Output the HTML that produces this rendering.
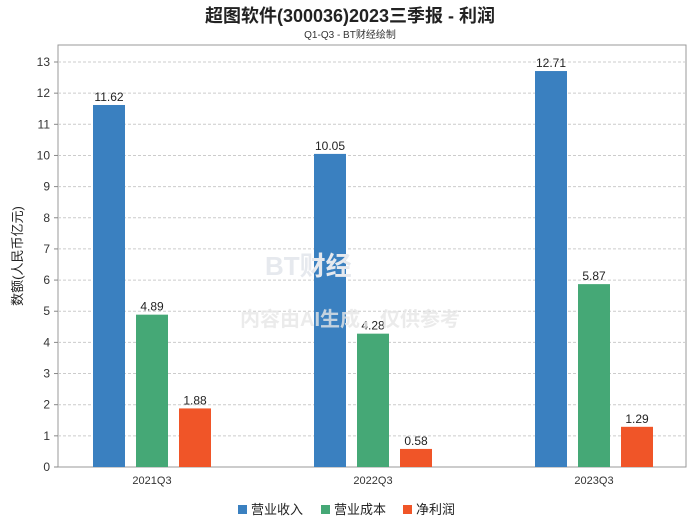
<!DOCTYPE html>
<html><head><meta charset="utf-8"><style>
body{margin:0;background:#fff;font-family:"Liberation Sans","Noto Sans CJK SC",sans-serif;}
</style></head><body>
<svg id="c" width="700" height="524" xmlns="http://www.w3.org/2000/svg" font-family="Liberation Sans, Noto Sans CJK SC, sans-serif">
<text x="350" y="22" text-anchor="middle" font-size="18" font-weight="bold" fill="#222">超图软件(300036)2023三季报 - 利润</text>
<text x="350" y="38" text-anchor="middle" font-size="10" fill="#333">Q1-Q3 - BT财经绘制</text>
<rect x="58" y="45" width="628" height="422" fill="none" stroke="#999"/>
<g id="grid"></g><g id="bars"></g>
<text x="265" y="275" font-size="26" font-weight="bold" fill="#e6e9ee">BT财经</text>
<text x="350" y="326" text-anchor="middle" font-size="20" font-weight="bold" fill="#e6e6e6" fill-opacity="0.8">内容由AI生成，仅供参考</text>
<text transform="translate(22,256) rotate(-90)" text-anchor="middle" font-size="13" fill="#222">数额(人民币亿元)</text>
<g id="legend"></g>
</svg>
<script>
const categories=["2021Q3","2022Q3","2023Q3"];
const seriesNames=["营业收入","营业成本","净利润"];
const revenue=[11.62,10.05,12.71];
const cost=[4.89,4.28,5.87];
const profit=[1.88,0.58,1.29];
const yTicks=[0,1,2,3,4,5,6,7,8,9,10,11,12,13];
const colors=["#3a80c0","#45a876","#f05528"];
const NS="http://www.w3.org/2000/svg";
const x0=58,x1=686,yb=467,yt=62;
const y=v=>yb-(v/13)*(yb-yt);
const groupW=221;
const cx=i=>152+groupW*i;
function mk(t,a,p){const e=document.createElementNS(NS,t);for(const k in a)e.setAttribute(k,a[k]);p.appendChild(e);return e;}
const grid=document.getElementById('grid');
yTicks.forEach(t=>{
 if(t>0){const l=mk('line',{x1:x0,x2:x1,y1:y(t),y2:y(t),stroke:'#ccc','stroke-dasharray':'3,2'},grid);
 
 }
 const tk=mk('line',{x1:x0-4,x2:x0,y1:y(t),y2:y(t),stroke:'#888'},grid);
 
 
 const tx=mk('text',{x:x0-8,y:y(t)+4,'text-anchor':'end','font-size':12,fill:'#333'},grid);tx.textContent=t;
 
 
});
const bars=document.getElementById('bars');
const series=[revenue,cost,profit];
const bw=32,step=43;
categories.forEach((c,i)=>{
 series.forEach((s,j)=>{
  const bx=cx(i)+(j-1)*step-bw/2;
  const r=mk('rect',{x:bx,y:y(s[i]),width:bw,height:yb-y(s[i]),fill:colors[j]},bars);
  
  
  const t=mk('text',{x:bx+bw/2,y:y(s[i])-4,'text-anchor':'middle','font-size':12,fill:'#222'},bars);t.textContent=s[i].toFixed(2);
  
  
 });
 const xt=mk('text',{x:cx(i),y:yb+17,'text-anchor':'middle','font-size':11,fill:'#333'},bars);xt.textContent=c;
 
 
});
const lg=document.getElementById('legend');
const lx=[238,321,403];
seriesNames.forEach((n,j)=>{
 const r=mk('rect',{x:lx[j],y:505,width:9,height:9,fill:colors[j]},lg);
 
 
 const t=mk('text',{x:lx[j]+13,y:514,'font-size':13,fill:'#222'},lg);t.textContent=n;
 
 
});
</script>
</body></html>
